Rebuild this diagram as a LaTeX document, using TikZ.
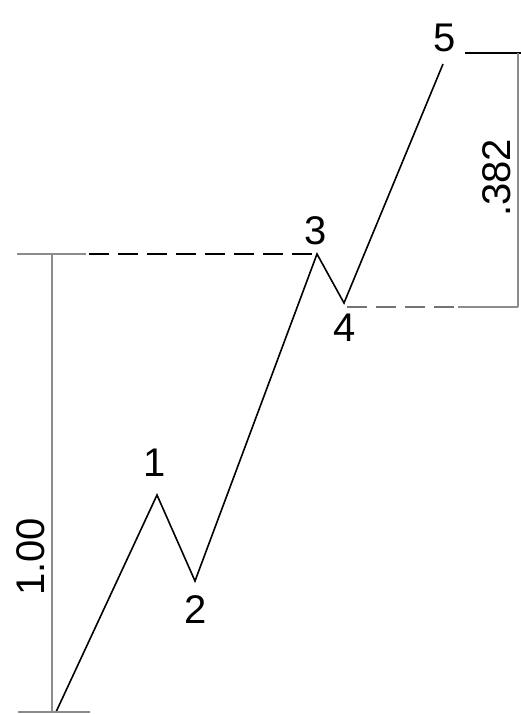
\documentclass[tikz,border=0pt]{standalone}
\usepackage{fontspec}
\setmainfont{Liberation Sans}
\begin{document}
\begin{tikzpicture}[x=1pt, y=-1pt,
  wave/.style = {line width=1.6pt, black},
  dimline/.style = {line width=1.4pt, black!45},
  levelbk/.style = {line width=2.6pt, black, dash pattern=on 20pt off 9pt},
  levelgr/.style = {line width=2.2pt, black!55, dash pattern=on 20pt off 9pt},
  wlbl/.style = {font=\fontsize{40}{44}\selectfont, inner sep=0pt}
]
  \useasboundingbox (0,0) rectangle (521,714);
  % wave points
  \coordinate (p0) at (56,712);
  \coordinate (p1) at (157,495);
  \coordinate (p2) at (195,581);
  \coordinate (p3) at (317,254);
  \coordinate (p4) at (344,303);
  \coordinate (p5) at (443,64);
  % impulse wave
  \draw[wave, line join=miter] (p0) -- (p1) -- (p2) -- (p3) -- (p4) -- (p5);
  % wave labels
  \node[wlbl] (l1) at (155,463) {1};
  \node[wlbl] (l2) at (196,610) {2};
  \node[wlbl] (l3) at (316,231) {3};
  \node[wlbl] (l4) at (345,328) {4};
  \node[wlbl] (l5) at (445,38) {5};
  % left dimension (1.00)
  \coordinate (dtop) at (52,254);
  \coordinate (dbot) at (52,712);
  \coordinate (tl) at (17,254);
  \coordinate (tr) at (86,254);
  \coordinate (bl) at (18,712);
  \coordinate (br) at (90,712);
  \draw[dimline] (tl) -- (tr);
  \draw[dimline] (bl) -- (br);
  \draw[dimline] (dtop) -- (dbot);
  \draw[levelbk] (89,254) -- (p3);
  \node[wlbl, rotate=90] (d1) at (31,557) {1.00};
  % right dimension (.382)
  \coordinate (rtop) at (518,53);
  \coordinate (rbot) at (518,307);
  \coordinate (rl) at (465,53);
  \coordinate (rr) at (521,53);
  \coordinate (gl) at (458,307);
  \draw[line width=1.4pt, black] (rl) -- (rr);
  \draw[dimline] (rtop) -- (rbot);
  \draw[dimline] (gl) -- (rbot);
  \draw[levelgr] (347,307) -- (gl);
  \node[wlbl, rotate=90] (d2) at (497,178) {.382};
\end{tikzpicture}
\end{document}
